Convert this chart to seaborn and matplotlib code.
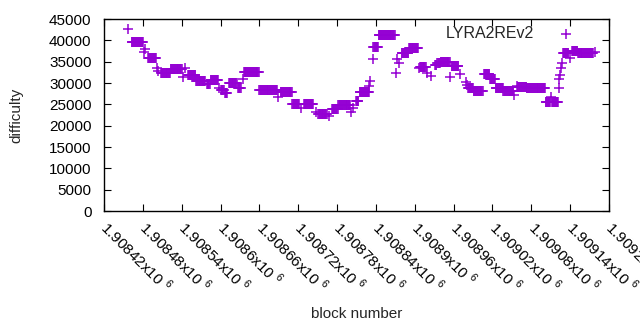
import numpy as np
import pandas as pd
import matplotlib
matplotlib.use("Agg")
import matplotlib.pyplot as plt
import matplotlib.transforms as mtransforms
import seaborn as sns

# runs of equal difficulty: first block, last block (offset from 1908420), difficulty
first_block = 1908420
run_start = [37, 43, 62, 63, 68, 82, 83, 88, 103, 122, 125, 130, 142, 159, 165, 177,
             181, 187, 193, 207, 215, 216, 240, 269, 273, 291, 304, 309, 327, 331,
             348, 352, 362, 382, 385, 389, 395, 410, 411, 415, 416, 424, 451, 453,
             456, 460, 471, 486, 488, 499, 505, 511, 515, 520, 535, 537, 550, 559,
             561, 562, 571, 587, 596, 605, 617, 633, 638, 639, 653, 682, 690, 692,
             702, 703, 704, 706, 708, 709, 720, 723, 732, 758]
run_end = [37, 60, 62, 63, 80, 82, 83, 102, 120, 122, 125, 141, 156, 163, 176, 177,
           185, 190, 205, 211, 215, 239, 267, 269, 290, 301, 304, 323, 327, 344,
           348, 361, 380, 382, 385, 393, 409, 410, 411, 415, 423, 449, 451, 453,
           456, 470, 485, 486, 497, 499, 505, 513, 519, 534, 535, 547, 550, 559,
           561, 570, 585, 595, 604, 616, 632, 633, 638, 652, 681, 689, 690, 701,
           702, 703, 704, 706, 708, 717, 720, 731, 755, 758]
run_value = [42590, 39540, 37340, 37900, 35790, 33440, 32800, 32280, 33290, 31480,
             33600, 31880, 30470, 29770, 30630, 28900, 28360, 27600, 29930, 28760,
             30870, 32500, 28290, 26720, 27820, 25000, 24220, 25080, 23280, 22810,
             22340, 23840, 24850, 23130, 24220, 25700, 27820, 29370, 30540, 35630,
             38370, 41180, 32280, 35560, 34620, 37100, 38130, 33440, 33830, 32420,
             31710, 34220, 34620, 35000, 31340, 34060, 32040, 30310, 29530, 28760,
             28130, 32040, 30940, 28900, 28130, 27190, 29300, 29140, 28760, 25460,
             26800, 25460, 28760, 30870, 31880, 33440, 34620, 36970, 35790,
             37500, 36970, 37340]

x_ticks = list(range(1908420, 1909201, 60))
x_tick_labels = ["1.90842", "1.90848", "1.90854", "1.9086", "1.90866", "1.90872",
                 "1.90878", "1.90884", "1.9089", "1.90896", "1.90902", "1.90908",
                 "1.90914", "1.9092"]
y_ticks = list(range(0, 45001, 5000))

blocks = []
diffs = []
for s, e, v in zip(run_start, run_end, run_value):
    for b in range(s, e + 1):
        blocks.append(first_block + b)
        diffs.append(v)
df = pd.DataFrame({"block": blocks, "difficulty": diffs})

sns.set_style("ticks")
plt.rcParams["font.family"] = ["Liberation Sans", "DejaVu Sans"]
plt.rcParams["mathtext.fontset"] = "custom"
plt.rcParams["mathtext.rm"] = "Liberation Sans"

fig = plt.figure(figsize=(6.4, 3.3), dpi=100)
ax = fig.add_axes([0.1625, 0.3606, 0.7891, 0.5818])

sns.scatterplot(data=df, x="block", y="difficulty", marker="+", color="#9400d3",
                s=42, linewidth=1.1, label="LYRA2REv2", ax=ax)

ax.set_xlim(1908420, 1909200)
ax.set_ylim(0, 45000)
ax.set_xticks(x_ticks)
ax.set_xticklabels([t + "x10 $^{6}$" for t in x_tick_labels], rotation=-45,
                   ha="left", va="center", rotation_mode="anchor", fontsize=11)
shift = mtransforms.ScaledTranslation(4 / 100, 0, fig.dpi_scale_trans)
for lab in ax.get_xticklabels():
    lab.set_transform(lab.get_transform() + shift)
ax.set_yticks(y_ticks)
ax.set_yticklabels([str(t) for t in y_ticks], fontsize=11)
ax.tick_params(direction="in", length=5, width=0.8, top=True, right=True, colors="black")
ax.tick_params(axis="x", pad=9.5)
ax.tick_params(axis="y", pad=9)
for sp in ax.spines.values():
    sp.set_linewidth(1)
    sp.set_color("black")
    sp.set_visible(True)

ax.set_xlabel("block number", fontsize=11)
ax.set_ylabel("difficulty", fontsize=11)
ax.xaxis.set_label_coords(0.5, -0.5)
ax.yaxis.set_label_coords(-0.16, 0.5)

ax.legend(loc="upper right", frameon=False, markerfirst=False, fontsize=11.5,
          handletextpad=1.0, borderaxespad=0.2, bbox_to_anchor=(0.965, 1.015))

fig.savefig("out.png", dpi=100)
